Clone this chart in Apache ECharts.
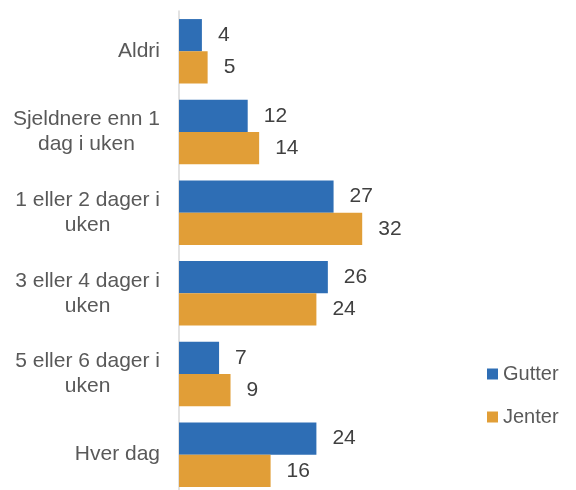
<!DOCTYPE html>
<html>
<head>
<meta charset="utf-8">
<script src="https://cdn.jsdelivr.net/npm/echarts@6/dist/echarts.min.js"></script>
<style>
  html, body { margin: 0; padding: 0; background: #fff; }
  #chart { width: 576px; height: 490px; }
</style>
</head>
<body>
<div id="chart"></div>
<script>
// kategorier (linjeskift som i originalen)
const categories = [
  'Aldri',
  'Sjeldnere enn 1\ndag i uken',
  '1 eller 2 dager i\nuken',
  '3 eller 4 dager i\nuken',
  '5 eller 6 dager i\nuken',
  'Hver dag'
]
const gutter = [4, 12, 27, 26, 7, 24]
const jenter = [5, 14, 32, 24, 9, 16]

const textColor = '#595959'

const barLabel = {
  show: true,
  position: 'right',
  distance: 16,
  fontFamily: 'Liberation Sans',
  fontSize: 21,
  color: '#404040'
}

const option = {
  animation: false,
  textStyle: { fontFamily: 'Liberation Sans' },
  grid: { left: 179, top: 11, width: 229, height: 484, outerBoundsMode: 'none', containLabel: false },
  legend: {
    orient: 'vertical',
    left: 482,
    top: 359,
    icon: 'rect',
    itemWidth: 11,
    itemHeight: 11,
    itemGap: 23,
    textStyle: { fontSize: 20, color: textColor, fontFamily: 'Liberation Sans' },
    data: ['Gutter', 'Jenter']
  },
  xAxis: { type: 'value', min: 0, max: 40, show: false },
  yAxis: {
    type: 'category',
    inverse: true,
    data: categories,
    axisLine: { lineStyle: { color: '#d9d9d9', width: 1.5 } },
    axisTick: { length: 6, lineStyle: { color: '#d9d9d9', width: 1.5 } },
    axisLabel: {
      margin: 19,
      align: 'right',
      formatter (v) {
        // hver linje sentrert innenfor blokken, blokken høyrejustert
        return v.split('\n').map(l => '{c|' + l + '}').join('\n')
      },
      rich: {
        c: { align: 'center', fontSize: 21, lineHeight: 25, color: textColor, fontFamily: 'Liberation Sans' }
      }
    }
  },
  series: [
    {
      name: 'Gutter',
      type: 'bar',
      data: gutter,
      barGap: '0%',
      barCategoryGap: '20%',
      itemStyle: { color: '#2E6EB5' },
      label: barLabel
    },
    {
      name: 'Jenter',
      type: 'bar',
      data: jenter,
      barGap: '0%',
      barCategoryGap: '20%',
      itemStyle: { color: '#E19E37' },
      label: barLabel
    }
  ]
}

const chart = echarts.init(document.getElementById('chart'))
chart.setOption(option)
</script>
</body>
</html>
